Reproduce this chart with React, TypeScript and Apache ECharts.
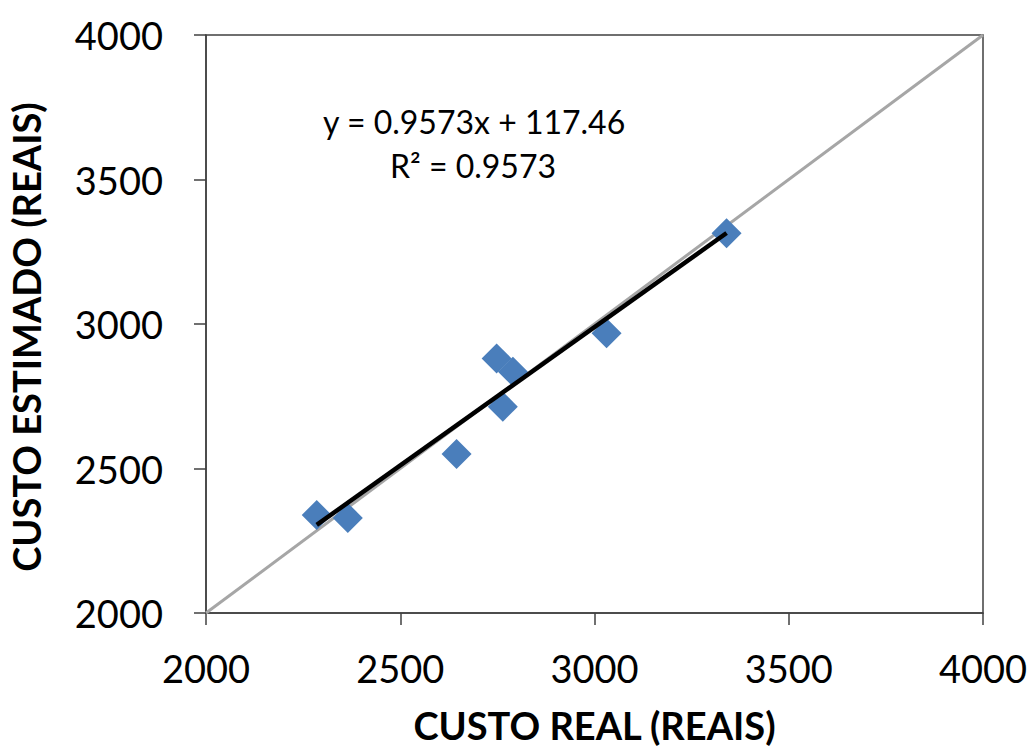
import React, { useEffect, useRef } from "react";
import * as echarts from "echarts";

const realCost: number[] = [2285, 2365, 2645, 2748, 2790, 2764, 3031, 3340];
const estimatedCost: number[] = [2339, 2329, 2550, 2881, 2835, 2714, 2968, 3314];
const axisTicks: number[] = [2000, 2500, 3000, 3500, 4000];
const slope = 0.9573;
const intercept = 117.46;
const equationText = "y = 0.9573x + 117.46";
const r2Text = "R² = 0.9573";

export default function App() {
  const ref = useRef<HTMLDivElement>(null);
  useEffect(() => {
    if (!ref.current) return;
    const chart = echarts.init(ref.current, undefined, { renderer: "svg" });
    const points = realCost.map((x, i) => [x, estimatedCost[i]]);
    const xMin = Math.min(...realCost);
    const xMax = Math.max(...realCost);
    const trend = [
      [xMin, slope * xMin + intercept],
      [xMax, slope * xMax + intercept],
    ];
    const lo = axisTicks[0];
    const hi = axisTicks[axisTicks.length - 1];
    const font = "Lato, 'Open Sans', sans-serif";
    chart.setOption({
      animation: false,
      backgroundColor: "#ffffff",
      grid: {
        left: 206,
        right: 49,
        top: 35,
        bottom: 139,
        outerBoundsMode: "none",
        containLabel: false,
        show: true,
        borderColor: "#404040",
        borderWidth: 1.5,
      },
      xAxis: {
        type: "value",
        min: lo,
        max: hi,
        interval: 500,
        name: "CUSTO REAL (REAIS)",
        nameLocation: "middle",
        nameGap: 93,
        nameTextStyle: { fontFamily: font, fontWeight: "bold", fontSize: 38, color: "#000" },
        axisLine: { show: true, lineStyle: { color: "#404040", width: 1.5 } },
        axisTick: { show: true, inside: false, length: 12, lineStyle: { color: "#404040", width: 1.5 } },
        axisLabel: { fontFamily: font, fontSize: 38, color: "#000", margin: 36, formatter: (v: number) => String(v) },
        splitLine: { show: false },
      },
      yAxis: {
        type: "value",
        min: lo,
        max: hi,
        interval: 500,
        name: "CUSTO ESTIMADO (REAIS)",
        nameLocation: "middle",
        nameGap: 161,
        nameTextStyle: {
          fontFamily: font,
          fontWeight: "bold",
          fontSize: 38,
          color: "#000",
          padding: [0, 26, 0, 0],
        },
        axisLine: { show: true, lineStyle: { color: "#404040", width: 1.5 } },
        axisTick: { show: true, inside: false, length: 12, lineStyle: { color: "#404040", width: 1.5 } },
        axisLabel: { fontFamily: font, fontSize: 38, color: "#000", margin: 43, formatter: (v: number) => String(v) },
        splitLine: { show: false },
      },
      graphic: [
        {
          type: "text",
          left: 323,
          top: 105,
          style: { text: equationText, font: `32px ${font}`, fill: "#000" },
        },
        {
          type: "text",
          left: 390,
          top: 149,
          style: { text: r2Text, font: `32px ${font}`, fill: "#000" },
        },
      ],
      series: [
        {
          type: "line",
          data: [[lo, lo], [hi, hi]],
          symbol: "none",
          lineStyle: { color: "#A6A6A6", width: 3 },
          z: 1,
        },
        {
          type: "scatter",
          data: points,
          symbol: "diamond",
          symbolSize: 30,
          itemStyle: { color: "#4A7EBB", opacity: 1 },
          z: 2,
        },
        {
          type: "line",
          data: trend,
          symbol: "none",
          lineStyle: { color: "#000000", width: 4.5 },
          z: 3,
        },
      ],
    });
    return () => chart.dispose();
  }, []);
  return (
    <div
      ref={ref}
      style={{ position: "absolute", left: 0, top: 0, width: 1032, height: 752 }}
    />
  );
}
